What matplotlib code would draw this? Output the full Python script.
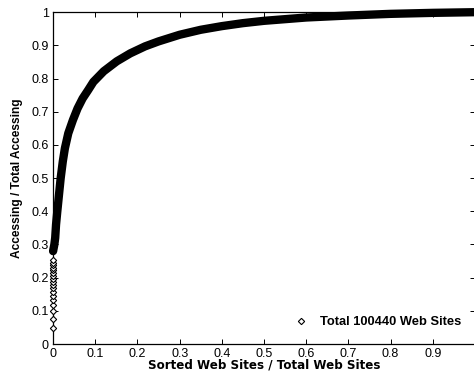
import matplotlib.pyplot as plt

# curve (sorted sites fraction -> cumulative accessing fraction)
x_curve = [0.0, 0.003, 0.005, 0.007, 0.010, 0.014, 0.018, 0.023, 0.028, 0.036,
           0.047, 0.058, 0.070, 0.083, 0.0955, 0.12, 0.151, 0.183, 0.218, 0.25,
           0.30, 0.35, 0.40, 0.45, 0.50, 0.60, 0.70, 0.80, 0.90, 1.0]
y_curve = [0.28, 0.30, 0.32, 0.36, 0.40, 0.45, 0.50, 0.55, 0.59, 0.635,
           0.675, 0.71, 0.74, 0.765, 0.79, 0.822, 0.852, 0.876, 0.897, 0.912,
           0.932, 0.947, 0.958, 0.967, 0.974, 0.984, 0.99, 0.995, 0.998, 1.0]

# the first few sites, visible as separate diamonds at x = 0
x_first = [0.0] * 18
y_first = [0.047, 0.075, 0.100, 0.117, 0.132, 0.145, 0.157, 0.168, 0.178,
           0.188, 0.197, 0.206, 0.214, 0.222, 0.230, 0.238, 0.245, 0.252]

xticks = [0, 0.1, 0.2, 0.3, 0.4, 0.5, 0.6, 0.7, 0.8, 0.9]
xlabels = ['0', '0.1', '0.2', '0.3', '0.4', '0.5', '0.6', '0.7', '0.8', '0.9']
yticks = [0, 0.1, 0.2, 0.3, 0.4, 0.5, 0.6, 0.7, 0.8, 0.9, 1]
ylabels = ['0', '0.1', '0.2', '0.3', '0.4', '0.5', '0.6', '0.7', '0.8', '0.9', '1']

plt.rcParams['font.family'] = ['Liberation Sans', 'DejaVu Sans']

fig = plt.figure(figsize=(4.74, 3.81), dpi=100)
ax = fig.add_axes([0.112, 0.097, 0.890, 0.871])

# thick band made of the densely packed markers
ax.plot(x_curve, y_curve, color='black', lw=6, solid_capstyle='round',
        solid_joinstyle='round', clip_on=False, zorder=3)
ax.plot(x_first, y_first, linestyle='none', marker='D', markersize=3.2,
        markerfacecolor='white', markeredgecolor='black', markeredgewidth=0.8,
        clip_on=False, zorder=4)

# legend entry
ax.plot([], [], linestyle='none', marker='D', markersize=3.2,
        markerfacecolor='white', markeredgecolor='black', markeredgewidth=0.8,
        label='Total 100440 Web Sites')
ax.legend(loc='lower right', bbox_to_anchor=(0.99, 0.02), frameon=False,
          prop={'weight': 'bold', 'size': 9.3}, handlelength=1.0,
          handletextpad=1.0, borderpad=0.2)

ax.set_xlim(0, 1)
ax.set_ylim(0, 1)
ax.set_xticks(xticks)
ax.set_xticklabels(xlabels)
ax.set_yticks(yticks)
ax.set_yticklabels(ylabels)
ax.tick_params(direction='in', length=3.5, width=0.7, labelsize=9,
               top=True, right=True, pad=3)
for s in ax.spines.values():
    s.set_linewidth(0.9)

ax.set_xlabel('Sorted Web Sites / Total Web Sites', fontsize=8.6,
              fontweight='bold', family='DejaVu Sans', labelpad=-1)
ax.set_ylabel('Accessing / Total Accessing', fontsize=8.6,
              fontweight='bold', labelpad=6)

fig.savefig('out.png', dpi=100)
